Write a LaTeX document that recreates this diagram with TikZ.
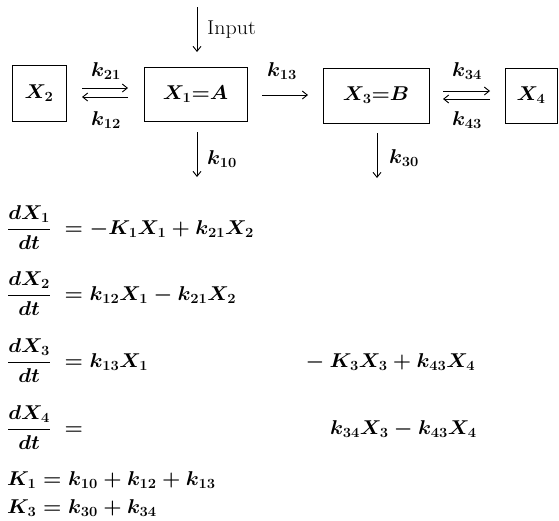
\RequirePackage{fix-cm}
\documentclass[tikz,border=0pt]{standalone}
\usetikzlibrary{arrows.meta}
\newcommand{\hx}[1]{\scalebox{1.05}[1]{#1}}
\begin{document}
\begin{tikzpicture}[x=1pt,y=-1pt,
  txt/.style={font=\fontsize{20}{24}\selectfont\boldmath, inner sep=0pt},
  box/.style={draw, line width=0.9pt, inner sep=0pt, font=\fontsize{20}{24}\selectfont\boldmath},
  arr/.style={line width=0.9pt, -{Straight Barb[length=5pt,width=8pt]}}]
\useasboundingbox (0,0) rectangle (559,520);
% boxes
\node[box, minimum width=54pt, minimum height=56pt] (x2) at (39,93) {\hx{$X_2$}};
\node[box, minimum width=103pt, minimum height=54pt] (x1) at (195.5,94) {\hx{$X_1{=}A$}};
\node[box, minimum width=106pt, minimum height=55pt] (x3) at (376,95.5) {\hx{$X_3{=}B$}};
\node[box, minimum width=52pt, minimum height=55pt] (x4) at (531,95.5) {\hx{$X_4$}};
% coordinates of arrow ends
\coordinate (inT) at (197,7);   \coordinate (inB) at (197,52);
\coordinate (a21s) at (82,88);  \coordinate (a21e) at (128,88);
\coordinate (a12s) at (128,97); \coordinate (a12e) at (82,97);
\coordinate (a13s) at (262,95); \coordinate (a13e) at (308,95);
\coordinate (a10s) at (197,132); \coordinate (a10e) at (197,177);
\coordinate (a30s) at (377,133); \coordinate (a30e) at (377,178);
\coordinate (a34s) at (443,91); \coordinate (a34e) at (490,91);
\coordinate (a43s) at (490,99); \coordinate (a43e) at (443,99);
% arrows
\draw[arr] (inT) -- (inB);
\draw[arr] (a21s) -- (a21e);
\draw[arr] (a12s) -- (a12e);
\draw[arr] (a13s) -- (a13e);
\draw[arr] (a10s) -- (a10e);
\draw[arr] (a30s) -- (a30e);
\draw[arr] (a34s) -- (a34e);
\draw[arr] (a43s) -- (a43e);
% labels
\node[txt, anchor=west, font=\fontsize{20}{24}\selectfont] (inlab) at (207,30) {\scalebox{1.1}[1]{Input}};
\node[txt] (l21) at (106,71) {\hx{$k_{21}$}};
\node[txt] (l12) at (106,120) {\hx{$k_{12}$}};
\node[txt] (l13) at (282,71) {\hx{$k_{13}$}};
\node[txt, anchor=west] (l10) at (207,159) {\hx{$k_{10}$}};
\node[txt, anchor=west] (l30) at (389,158) {\hx{$k_{30}$}};
\node[txt] (l34) at (467,71) {\hx{$k_{34}$}};
\node[txt] (l43) at (467,120) {\hx{$k_{43}$}};
% equations
\node[txt, anchor=base west] (e1) at (7,234) {\hx{$\displaystyle\frac{dX_1}{dt}\;= -K_1X_1+k_{21}X_2$}};
\node[txt, anchor=base west] (e2) at (7,300) {\hx{$\displaystyle\frac{dX_2}{dt}\;= k_{12}X_1-k_{21}X_2$}};
\node[txt, anchor=base west] (e3) at (7,367) {\hx{$\displaystyle\frac{dX_3}{dt}\;= k_{13}X_1$}};
\node[txt, anchor=base west] (e3r) at (300,367) {\hx{${}-K_3X_3+k_{43}X_4$}};
\node[txt, anchor=base west] (e4) at (7,434) {\hx{$\displaystyle\frac{dX_4}{dt}\;=$}};
\node[txt, anchor=base west] (e4r) at (330,434) {\hx{$k_{34}X_3-k_{43}X_4$}};
\node[txt, anchor=base west] (k1) at (7,485) {\hx{$K_1=k_{10}+k_{12}+k_{13}$}};
\node[txt, anchor=base west] (k3) at (7,513) {\hx{$K_3=k_{30}+k_{34}$}};
\end{tikzpicture}
\end{document}
